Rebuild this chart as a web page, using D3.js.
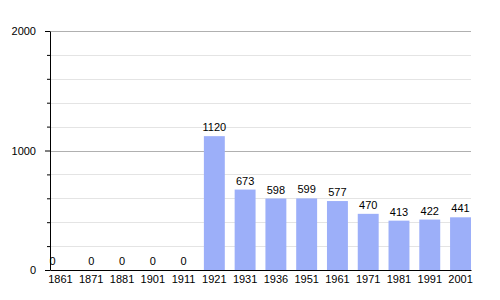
<!DOCTYPE html>
<html lang="en">
<head>
<meta charset="utf-8">
<title></title>
<script src="https://d3js.org/d3.v7.min.js"></script>
<style>
  body { margin: 0; background: white; }
  svg { font-family: 'Liberation Sans', Arial, sans-serif; }
  .bar { fill: #9caff9; }
  .grid-major { stroke: #b0b0b0; }
  .grid-minor { stroke: #e4e4e4; }
  .axis path, .axis line { stroke: #000; }
  .axis text, .value { fill: #000; font-size: 11px; }
</style>
</head>
<body>
<div id="chart"></div>
<script>
var years = ["1861", "1871", "1881", "1901", "1911", "1921", "1931", "1936", "1951", "1961", "1971", "1981", "1991", "2001"];
var population = [0, 0, 0, 0, 0, 1120, 673, 598, 599, 577, 470, 413, 422, 441];
var majorTicks = [0, 1000, 2000];
var minorTicks = [200, 400, 600, 800, 1200, 1400, 1600, 1800];

var margin = {top: 31, right: 29, bottom: 30, left: 50},
    width = 500 - margin.left - margin.right,
    height = 300 - margin.top - margin.bottom;

var svg = d3.select("#chart")
  .append("svg")
    .attr("width", 500)
    .attr("height", 300)
  .append("g")
    .attr("transform", "translate(" + margin.left + "," + margin.top + ")");

var x = d3.scaleBand()
  .domain(years)
  .range([0, width])
  .paddingInner(0.32)
  .paddingOuter(0);

var y = d3.scaleLinear()
  .domain([0, 2000])
  .range([height, 0]);

// gridlines
svg.selectAll(".grid-minor")
  .data(minorTicks)
  .enter().append("line")
    .attr("class", "grid-minor")
    .attr("x1", 0).attr("x2", width)
    .attr("y1", function(d) { return Math.round(y(d)) + 0.5; })
    .attr("y2", function(d) { return Math.round(y(d)) + 0.5; });

svg.selectAll(".grid-major")
  .data(majorTicks.slice(1))
  .enter().append("line")
    .attr("class", "grid-major")
    .attr("x1", 0).attr("x2", width)
    .attr("y1", function(d) { return Math.round(y(d)) + 0.5; })
    .attr("y2", function(d) { return Math.round(y(d)) + 0.5; });

// bars
svg.selectAll(".bar")
  .data(population)
  .enter().append("rect")
    .attr("class", "bar")
    .attr("x", function(d, i) { return x(years[i]); })
    .attr("width", x.bandwidth())
    .attr("y", function(d) { return y(d); })
    .attr("height", function(d) { return height - y(d); });

// value labels (the first one sits against the axis in the original)
svg.selectAll(".value")
  .data(population)
  .enter().append("text")
    .attr("class", "value")
    .attr("text-anchor", "middle")
    .attr("x", function(d, i) { return i === 0 ? 2.5 : x(years[i]) + x.bandwidth() / 2; })
    .attr("y", function(d) { return y(d) - 5; })
    .text(function(d) { return d; });

// minor ticks on y axis
svg.append("g")
  .attr("class", "axis")
  .call(d3.axisLeft(y).tickValues(minorTicks).tickSize(3).tickFormat(""))
  .select(".domain").remove();

// y axis
svg.append("g")
  .attr("class", "axis")
  .call(d3.axisLeft(y).tickValues(majorTicks).tickSize(5).tickSizeOuter(0).tickPadding(9).tickFormat(d3.format("d")));

// x axis
svg.append("g")
  .attr("class", "axis")
  .attr("transform", "translate(0," + height + ")")
  .call(d3.axisBottom(x).tickSize(0).tickSizeOuter(0).tickPadding(5));
</script>
</body>
</html>
